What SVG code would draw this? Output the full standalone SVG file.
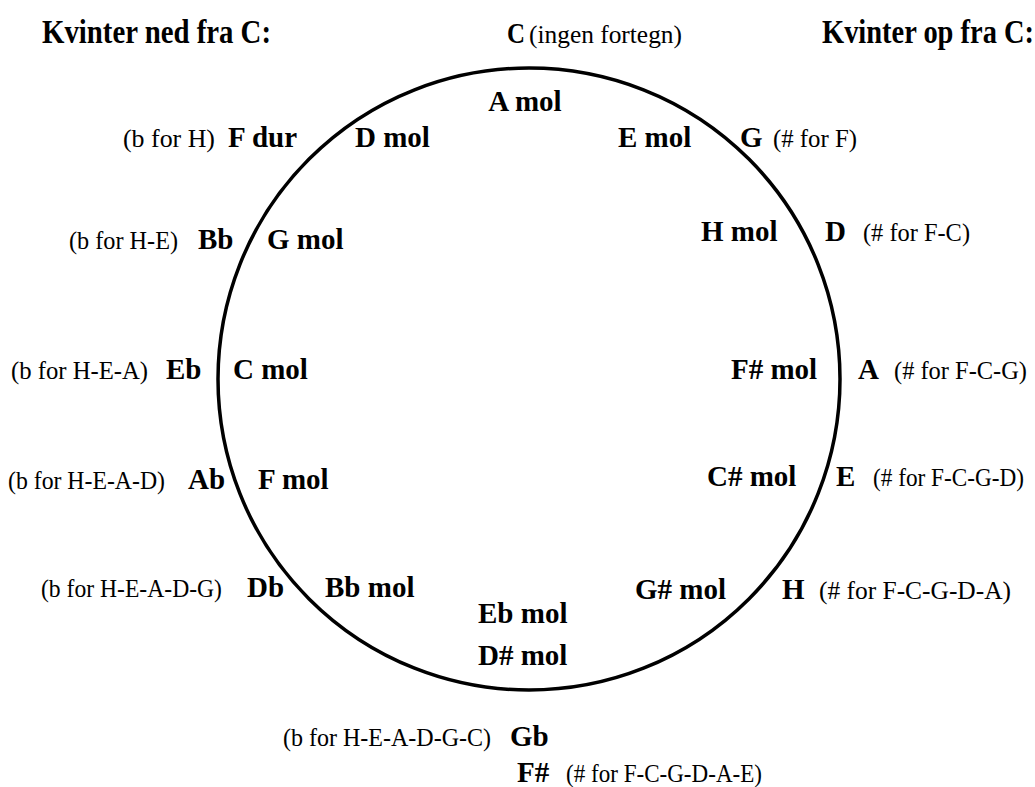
<svg xmlns="http://www.w3.org/2000/svg" width="1035" height="787" viewBox="0 0 1035 787">
<style>
text{font-family:"Liberation Serif","Times New Roman",serif;fill:#000}
.t{font-weight:bold;font-size:33px}
.k{font-weight:bold;font-size:29px}
.n{font-size:26px}
.ring{fill:none;stroke:#000;stroke-width:3.5}
</style>
<rect width="1035" height="787" fill="#fff"/>
<g id="circle"><circle class="ring" cx="529" cy="379" r="311"/></g>
<g id="titles">
<text class="t" x="42" y="43" textLength="229" lengthAdjust="spacingAndGlyphs">Kvinter ned fra C:</text>
<text class="t" x="822" y="43" textLength="212" lengthAdjust="spacingAndGlyphs">Kvinter op fra C:</text>
</g>
<g id="key-C"><text class="k" x="507" y="43" font-size="31" textLength="18" lengthAdjust="spacingAndGlyphs">C</text><text class="n" x="529" y="43" textLength="153" lengthAdjust="spacingAndGlyphs">(ingen fortegn)</text></g>
<g id="key-Amol"><text class="k" x="525" y="111" text-anchor="middle">A mol</text></g>
<g id="key-F"><text class="n" x="123" y="147" textLength="92" lengthAdjust="spacingAndGlyphs">(b for H)</text><text class="k" x="228" y="147">F dur</text></g>
<g id="key-Dmol"><text class="k" x="355" y="147">D mol</text></g>
<g id="key-Emol"><text class="k" x="618" y="147">E mol</text></g>
<g id="key-G"><text class="k" x="740" y="147">G</text><text class="n" x="773" y="147" textLength="84" lengthAdjust="spacingAndGlyphs">(# for F)</text></g>
<g id="key-Bb"><text class="n" x="69" y="249" textLength="109" lengthAdjust="spacingAndGlyphs">(b for H-E)</text><text class="k" x="198" y="249">Bb</text></g>
<g id="key-Gmol"><text class="k" x="267" y="249">G mol</text></g>
<g id="key-Hmol"><text class="k" x="701" y="241">H mol</text></g>
<g id="key-D"><text class="k" x="825" y="241">D</text><text class="n" x="863" y="241" textLength="107" lengthAdjust="spacingAndGlyphs">(# for F-C)</text></g>
<g id="key-Eb"><text class="n" x="11" y="379" textLength="137" lengthAdjust="spacingAndGlyphs">(b for H-E-A)</text><text class="k" x="166" y="379">Eb</text></g>
<g id="key-Cmol"><text class="k" x="233" y="379">C mol</text></g>
<g id="key-Fismol"><text class="k" x="731" y="379">F# mol</text></g>
<g id="key-A"><text class="k" x="858" y="379">A</text><text class="n" x="894" y="379" textLength="133" lengthAdjust="spacingAndGlyphs">(# for F-C-G)</text></g>
<g id="key-Ab"><text class="n" x="8" y="489" textLength="157" lengthAdjust="spacingAndGlyphs">(b for H-E-A-D)</text><text class="k" x="188" y="489">Ab</text></g>
<g id="key-Fmol"><text class="k" x="258" y="489">F mol</text></g>
<g id="key-Cismol"><text class="k" x="707" y="486">C# mol</text></g>
<g id="key-E"><text class="k" x="836" y="486">E</text><text class="n" x="873" y="486" textLength="151" lengthAdjust="spacingAndGlyphs">(# for F-C-G-D)</text></g>
<g id="key-Db"><text class="n" x="41" y="597" textLength="181" lengthAdjust="spacingAndGlyphs">(b for H-E-A-D-G)</text><text class="k" x="247" y="597">Db</text></g>
<g id="key-Bbmol"><text class="k" x="325" y="597">Bb mol</text></g>
<g id="key-Gismol"><text class="k" x="635" y="599">G# mol</text></g>
<g id="key-H"><text class="k" x="782" y="599">H</text><text class="n" x="819" y="599" textLength="192" lengthAdjust="spacingAndGlyphs">(# for F-C-G-D-A)</text></g>
<g id="key-Ebmol"><text class="k" x="478" y="623">Eb mol</text><text class="k" x="478" y="665">D# mol</text></g>
<g id="key-Gb"><text class="n" x="283" y="746" textLength="208" lengthAdjust="spacingAndGlyphs">(b for H-E-A-D-G-C)</text><text class="k" x="510" y="746">Gb</text></g>
<g id="key-Fis"><text class="k" x="517" y="782">F#</text><text class="n" x="566" y="782" font-size="24" textLength="196" lengthAdjust="spacingAndGlyphs">(# for F-C-G-D-A-E)</text></g>
</svg>
